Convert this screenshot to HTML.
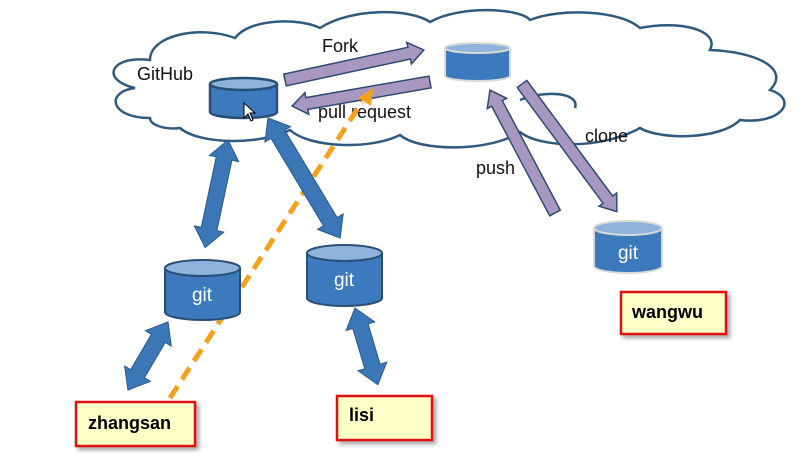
<!DOCTYPE html>
<html><head><style>
html,body{margin:0;padding:0;background:#fff;}
svg{display:block}
text{font-family:"Liberation Sans",sans-serif;}
</style></head><body>
<svg width="803" height="463" viewBox="0 0 803 463" xmlns="http://www.w3.org/2000/svg">
<!-- cloud -->
<path d="M150,118 C110,118 105,92 135,88 C100,80 110,55 150,60 C150,35 200,25 235,38 C250,18 300,18 320,28 C350,8 410,8 430,22 C460,5 520,8 530,20 C560,8 620,10 640,28 C680,20 720,30 710,50 C760,52 790,70 770,90 C800,100 780,125 740,120 C720,140 660,140 640,128 C600,150 540,148 520,132 C490,152 420,152 400,135 C370,150 310,148 290,130 C260,145 200,145 180,128 C165,130 150,125 150,118 Z" fill="#fff" stroke="#2f5a80" stroke-width="2.5"/>
<path d="M520,100 C545,90 580,92 575,108" fill="none" stroke="#2f5a80" stroke-width="2.5"/>
<text x="137" y="80" font-size="18" fill="#111">GitHub</text>
<text x="322" y="52" font-size="18" fill="#111">Fork</text>
<text x="318" y="118" font-size="18" fill="#111">pull request</text>
<text x="476" y="174" font-size="18" fill="#111">push</text>
<text x="585" y="142" font-size="18" fill="#111">clone</text>
<!-- purple arrows -->
<g fill="#a898c0" stroke="#2f4a70" stroke-width="1.5">
<path transform="translate(285,80) rotate(-12.2)" d="M0,-6 L127,-6 L127,-11 L142,0 L127,11 L127,6 L0,6 Z"/>
<path transform="translate(430,82) rotate(170.1)" d="M0,-6 L125,-6 L125,-11 L140,0 L125,11 L125,6 L0,6 Z"/>
<path transform="translate(555,213) rotate(-117.9)" d="M0,-6 L124,-6 L124,-11 L139,0 L124,11 L124,6 L0,6 Z"/>
<path transform="translate(522,84) rotate(53.4)" d="M0,-6 L144,-6 L144,-11 L159,0 L144,11 L144,6 L0,6 Z"/>
</g>
<!-- orange dashed -->
<line x1="170" y1="398" x2="362" y2="102" stroke="#f7a01b" stroke-width="5" stroke-dasharray="14,8"/>
<path d="M358,98 L373,88 L371,106 Z" fill="#f7a01b"/>
<!-- blue double arrows -->
<g fill="#3b76b6" stroke="#2a5a90" stroke-width="1">
<path transform="translate(228,140) rotate(102)" d="M0,0 L19,-15 L19,-8 L91,-8 L91,-15 L110,0 L91,15 L91,8 L19,8 L19,15 Z"/>
<path transform="translate(268,118) rotate(59)" d="M0,0 L19,-15 L19,-8 L121,-8 L121,-15 L140,0 L121,15 L121,8 L19,8 L19,15 Z"/>
<path transform="translate(168,322) rotate(120.5)" d="M0,0 L19,-15 L19,-8 L60,-8 L60,-15 L79,0 L60,15 L60,8 L19,8 L19,15 Z"/>
<path transform="translate(355,308) rotate(73.4)" d="M0,0 L19,-15 L19,-8 L61,-8 L61,-15 L80,0 L61,15 L61,8 L19,8 L19,15 Z"/>
</g>
<!-- cylinders -->
<g stroke="#2a4f76" stroke-width="2.5">
<path d="M210,84 L210,112 A33.5,6 0 0 0 277,112 L277,84" fill="#3d7abd"/>
<ellipse cx="243.5" cy="84" rx="33.5" ry="6" fill="#8fb3dd"/>
</g>
<path d="M244,103 L244,118 L248,114 L251,121 L253,120 L250,113 L255,113 Z" fill="#fff" stroke="#000" stroke-width="1"/>
<g stroke="#d8dcd6" stroke-width="2">
<path d="M445,48 L445,76 A32.5,5 0 0 0 510,76 L510,48" fill="#3d7abd"/>
<ellipse cx="477.5" cy="48" rx="32.5" ry="5" fill="#8fb3dd"/>
</g>
<g stroke="#2a4f76" stroke-width="2">
<path d="M165,268 L165,312 A37.5,8 0 0 0 240,312 L240,268" fill="#3d7abd"/>
<ellipse cx="202.5" cy="268" rx="37.5" ry="8" fill="#8fb3dd"/>
<path d="M307,253 L307,298 A37.5,8 0 0 0 382,298 L382,253" fill="#3d7abd"/>
<ellipse cx="344.5" cy="253" rx="37.5" ry="8" fill="#8fb3dd"/>
</g>
<g stroke="#d8dcd6" stroke-width="2">
<path d="M594,228 L594,266 A34,7 0 0 0 662,266 L662,228" fill="#3d7abd"/>
<ellipse cx="628" cy="228" rx="34" ry="7" fill="#8fb3dd"/>
</g>
<text x="202" y="301" font-size="19" fill="#fff" text-anchor="middle">git</text>
<text x="344" y="286" font-size="19" fill="#fff" text-anchor="middle">git</text>
<text x="628" y="259" font-size="19" fill="#fff" text-anchor="middle">git</text>
<!-- boxes -->
<g fill="#ffffc8" stroke="#e01010" stroke-width="2.5" style="filter:drop-shadow(3px 3px 2px rgba(0,0,0,0.35))">
<rect x="76" y="402" width="119" height="44"/>
<rect x="337" y="396" width="95" height="44"/>
<rect x="621" y="292" width="105" height="42"/>
</g>
<g font-size="18" font-weight="bold" fill="#000">
<text x="88" y="429">zhangsan</text>
<text x="349" y="421">lisi</text>
<text x="632" y="318">wangwu</text>
</g>
</svg>
</body></html>
